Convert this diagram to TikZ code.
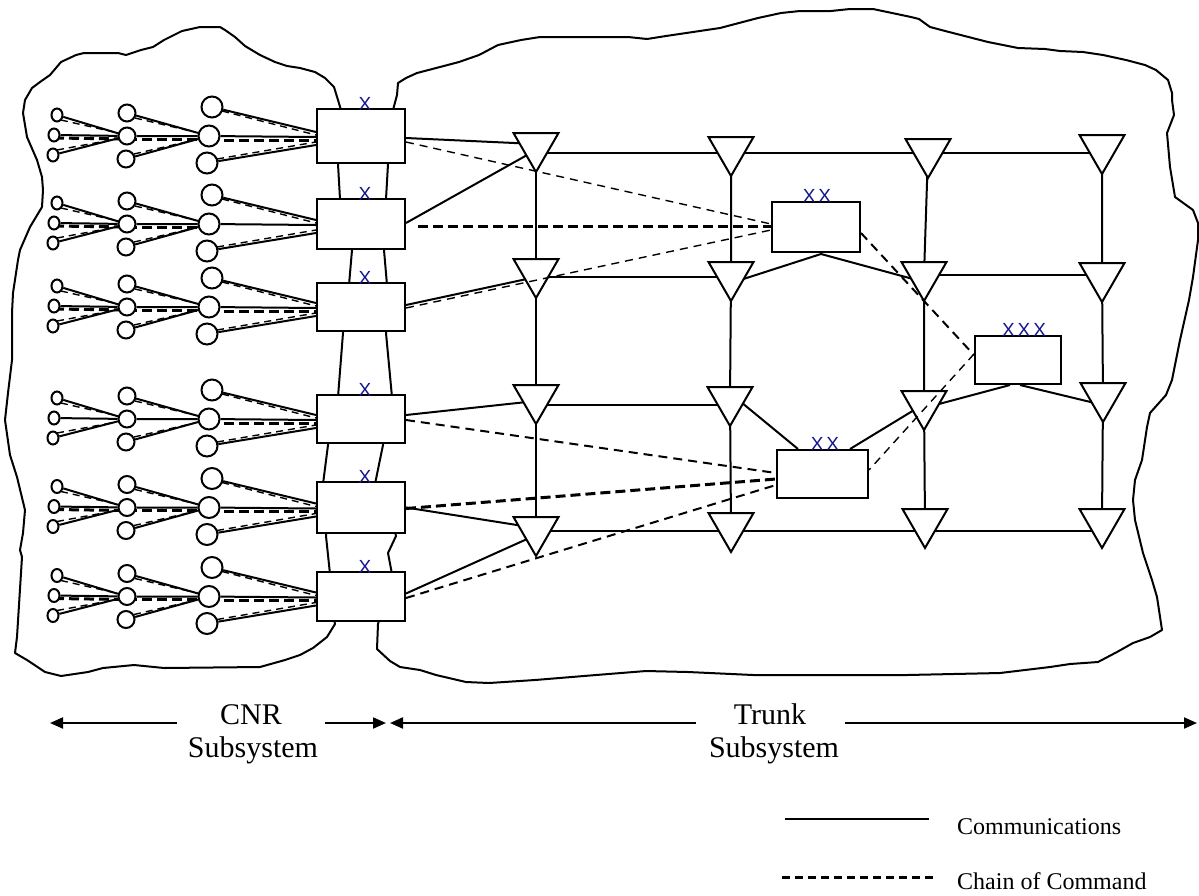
\documentclass[tikz,border=0pt]{standalone}
\usepackage{fontspec}
\setmainfont{Liberation Serif}
\newfontfamily\markfont{Liberation Sans}
\usetikzlibrary{shapes.geometric,calc,arrows.meta}
\pgfdeclarelayer{bg}
\pgfdeclarelayer{fg}
\pgfsetlayers{bg,main,fg}
\definecolor{mknavy}{RGB}{20,20,140}
\tikzset{
 comm/.style={line width=2pt, line join=round},
 cmdthin/.style={line width=1.4pt, dash pattern=on 8pt off 6pt},
 cmdmid/.style={line width=2pt, dash pattern=on 9pt off 6pt},
 cmdthick/.style={line width=3pt, dash pattern=on 10pt off 5pt},
 fand/.style={line width=1.4pt, dash pattern=on 7pt off 5pt},
 nd/.style={draw=none},
 blob/.style={line width=2pt, line join=round},
 unitbox/.style={draw, fill=white, line width=2pt, rectangle, inner sep=0pt, minimum width=88pt},
 tri/.style={regular polygon, regular polygon sides=3, shape border rotate=180, minimum size=52pt, inner sep=0pt, draw, fill=white, line width=2pt},
 c1/.style={draw, fill=white, line width=2pt, ellipse, inner sep=0pt, minimum width=11pt, minimum height=13pt},
 c2/.style={draw, fill=white, line width=2pt, circle, inner sep=0pt, minimum size=17pt},
 c3/.style={draw, fill=white, line width=2pt, circle, inner sep=0pt, minimum size=21pt},
 mk/.style={text=mknavy, font=\markfont\fontsize{19}{19}\selectfont, inner sep=0pt, anchor=base},
 lbl/.style={font=\fontsize{30}{34}\selectfont, inner sep=0pt, anchor=base},
 leg/.style={font=\fontsize{24}{28}\selectfont, inner sep=0pt, anchor=base west},
 arr/.style={line width=2pt, -{Triangle[length=13pt,width=11pt]}},
}
\newcommand\cnrgroup[6]{%
 \node[unitbox, minimum height=#3pt] (B#1) at (361,#2) {};
 \node[mk] (M#1) at (365,{#2-#3/2+1}) {X};
 \node[c1] (a#1t) at (57,{#2-21}) {};
 \node[c1] (a#1m) at (54,{#2-1}) {};
 \node[c1] (a#1b) at (53,{#2+19}) {};
 \node[c2] (b#1t) at (127,{#2-23}) {};
 \node[c2] (b#1m) at (127,{#2}) {};
 \node[c2] (b#1b) at (126,{#2+23}) {};
 \node[c3] (d#1t) at (212,{#2-29}) {};
 \node[c3] (d#1m) at (209,{#2}) {};
 \node[c3] (d#1b) at (207,{#2+27}) {};
 \begin{pgfonlayer}{bg}
  \draw[comm] (a#1t) -- (b#1m) (a#1m) -- (b#1m) (a#1b) -- (b#1m);
  \draw[comm] (b#1t) -- (d#1m) (b#1m) -- (d#1m) (b#1b) -- (d#1m);
  \draw[comm] (d#1t) -- ($(B#1.west)+(0,-4)$);
  \draw[comm] (d#1m) -- ($(B#1.west)+(0,1)$);
  \draw[comm] (d#1b) -- ($(B#1.west)+(0,9)$);
  \draw[fand] ($(a#1t)+(4,5)$) -- ($(a#1t)!0.8!(b#1m)$);
  \draw[fand] ($(a#1b)+(4,-5)$) -- ($(a#1b)!0.8!(b#1m)$);
  \draw[fand] ($(b#1t)+(8,5)$) -- ($(b#1t)!0.82!(d#1m)$);
  \draw[fand] ($(b#1b)+(8,-5)$) -- ($(b#1b)!0.82!(d#1m)$);
  \draw[fand] ($(d#1t)+(10,4)$) -- ($(B#1.west)+(0,-1)$);
  \draw[fand] ($(d#1b)+(10,-4)$) -- ($(B#1.west)+(0,6)$);
  \draw[#4] ($(a#1m)+(0,3)$) -- ($(b#1m)+(0,3)$);
  \draw[#5] ($(b#1m)+(0,3)$) -- ($(d#1m)+(0,3)$);
  \draw[#6] ($(d#1m)+(0,4)$) -- ($(B#1.west)+(0,4)$);
 \end{pgfonlayer}
}
\begin{document}
\begin{tikzpicture}[x=1pt,y=-1pt]
\useasboundingbox (0,0) rectangle (1199,895);
\begin{pgfonlayer}{bg}
% CNR blob
\draw[blob] (341,110) -- (338,100) -- (334,87) -- (325,78) -- (315,72) -- (300,68) -- (287,66) -- (275,62) -- (260,55) -- (245,46) -- (235,37) -- (225,30) -- (220,27) -- (200,27) -- (182,31) -- (170,37) -- (164,40) -- (153,47) -- (141,50) -- (126,55) -- (118,53) -- (84,53) -- (76,55) -- (61,62) -- (50,75) -- (40,82) -- (32,88) -- (25,100) -- (23,113) -- (27,137) -- (37,160) -- (42,177) -- (43,190) -- (42,207) -- (30,227) -- (20,250) -- (18,260) -- (13,293) -- (12,313) -- (12,360) -- (8,393) -- (5,420) -- (10,455) -- (17,477) -- (25,510) -- (23,533) -- (20,550) -- (22,557) -- (17,637) -- (15,653) -- (27,660) -- (45,672) -- (61,676) -- (88,672) -- (103,668) -- (134,665) -- (164,668) -- (260,667) -- (285,660) -- (300,655) -- (313,648) -- (327,637) -- (335,624) -- (330,600) -- (330,574) -- (326,536) -- (328,510) -- (323,484) -- (328,445) -- (333,420) -- (338,397) -- (343,333) -- (346,310) -- (349,285) -- (352,250) -- (345,225) -- (340,199) -- (338,164) -- (340,137) -- cycle;
% Trunk blob
\draw[blob] (393,110) -- (397,95) -- (398,83) -- (406,78) -- (417,73) -- (440,67) -- (459,62) -- (479,55) -- (498,45) -- (521,40) -- (540,37) -- (628,37) -- (647,39) -- (666,36) -- (720,28) -- (739,23) -- (758,18) -- (781,13) -- (800,11) -- (831,11) -- (850,9) -- (873,9) -- (892,13) -- (911,17) -- (919,19) -- (930,27) -- (949,32) -- (988,42) -- (1018,48) -- (1045,49) -- (1060,51) -- (1083,52) -- (1103,55) -- (1126,60) -- (1145,65) -- (1156,70) -- (1168,80) -- (1172,93) -- (1172,100) -- (1174,115) -- (1167,133) -- (1170,167) -- (1175,197) -- (1193,210) -- (1198,223) -- (1198,240) -- (1193,277) -- (1189,300) -- (1180,340) -- (1172,380) -- (1166,395) -- (1150,413) -- (1147,427) -- (1142,460) -- (1135,480) -- (1133,500) -- (1135,520) -- (1143,553) -- (1152,580) -- (1157,597) -- (1162,630) -- (1150,637) -- (1133,643) -- (1117,652) -- (1098,662) -- (1070,664) -- (1050,667) -- (1000,673) -- (907,675) -- (850,675) -- (753,675) -- (688,672) -- (646,671) -- (596,675) -- (535,680) -- (489,683) -- (466,682) -- (436,675) -- (420,670) -- (400,667) -- (390,661) -- (377,649) -- (378,624) -- (385,600) -- (392,574) -- (388,553) -- (396,536) -- (390,510) -- (375,484) -- (383,445) -- (392,397) -- (389,365) -- (386,333) -- (387,285) -- (384,250) -- (386,199) -- (388,164) -- cycle;
\end{pgfonlayer}
% CNR groups
\cnrgroup{1}{136}{54}{cmdthick}{cmdthick}{cmdthick}
\cnrgroup{2}{224}{50}{cmdthick}{cmdthick}{nd}
\cnrgroup{3}{307}{48}{cmdthick}{cmdthick}{cmdthick}
\cnrgroup{4}{419}{48}{nd}{nd}{cmdthick}
\cnrgroup{5}{507.5}{51}{cmdthick}{cmdthick}{cmdthick}
\cnrgroup{6}{596.5}{49}{cmdthick}{cmdthick}{cmdthick}
% trunk switches
\node[tri] (T11) at (536,146) {};
\node[tri] (T12) at (731,150) {};
\node[tri] (T13) at (928,152) {};
\node[tri] (T14) at (1102,148) {};
\node[tri] (T21) at (536,272) {};
\node[tri] (T22) at (731,275) {};
\node[tri] (T23) at (924,275) {};
\node[tri] (T24) at (1102,276) {};
\node[tri] (T31) at (536,398) {};
\node[tri] (T32) at (730,400) {};
\node[tri] (T33) at (924,404) {};
\node[tri] (T34) at (1103,396) {};
\node[tri] (T41) at (536,530) {};
\node[tri] (T42) at (731,526) {};
\node[tri] (T43) at (925,522) {};
\node[tri] (T44) at (1102,522) {};
% command posts
\node[unitbox, minimum width=88pt, minimum height=50pt] (XX1) at (816,227) {};
\node[mk] (M7) at (817,202) {X\hspace{3pt}X};
\node[unitbox, minimum width=91pt, minimum height=48pt] (XX2) at (822.5,474) {};
\node[mk] (M8) at (825,450) {X\hspace{3pt}X};
\node[unitbox, minimum width=86pt, minimum height=48pt] (XXX) at (1018,360) {};
\node[mk] (M9) at (1024,336) {X\hspace{3pt}X\hspace{3pt}X};
\begin{pgfonlayer}{bg}
% grid verticals
\draw[comm] (T11.center) -- (T21.center) -- (T31.center) -- (T41.center);
\draw[comm] (T12.center) -- (T22.center) -- (T32.center) -- (T42.center);
\draw[comm] (T13.center) -- (T23.center) -- (T33.center) -- (T43.center);
\draw[comm] (T14.center) -- (T24.center) -- (T34.center) -- (T44.center);
% grid horizontals
\draw[comm] (T11.center |- 0,153) -- (T14.center |- 0,153);
\draw[comm] (T21.center |- 0,277) -- (T22.center |- 0,277);
\draw[comm] (T23.center |- 0,275) -- (T24.center |- 0,275);
\draw[comm] (T31.center |- 0,405) -- (T32.center |- 0,405);
\draw[comm] (T41.center |- 0,531) -- (T44.center |- 0,531);
% links through command posts
\draw[comm] ($(T22.center)+(0,8)$) -- ($(XX1.south)+(5,1)$) -- ($(T23.center)+(0,7)$);
\draw[comm] ($(T32.center)+(0,-7)$) -- ($(XX2.north west)+(22,0)$);
\draw[comm] ($(XX2.north east)+(-19,0)$) -- (T33.center);
\draw[comm] ($(T33.center)+(0,4)$) -- ($(XXX.south)+(-8,0)$);
\draw[comm] ($(XXX.south)+(2,0)$) -- ($(T34.center)+(0,9)$);
% CNR to trunk
\draw[comm] ($(B1.east)+(0,2)$) -- ($(T11.center)+(0,-2)$);
\draw[comm] ($(B2.east)+(0,-1)$) -- ($(T11.center)+(0,4)$);
\draw[comm] ($(B3.east)+(0,-2)$) -- ($(T21.center)+(0,5)$);
\draw[comm] ($(B4.east)+(0,-4)$) -- ($(T31.center)+(0,3)$);
\draw[comm] (B5.east) -- ($(T41.center)+(0,-2)$);
\draw[comm] ($(B6.east)+(0,-3)$) -- ($(T41.center)+(0,5)$);
\end{pgfonlayer}
\begin{pgfonlayer}{fg}
\draw[cmdthin] ($(B1.east)+(0,6)$) -- ($(XX1.west)+(0,-3)$);
\draw[cmdthick] ($(B2.east)+(12,2)$) -- ($(XX1.west)+(0,-1)$);
\draw[cmdthin] ($(B3.east)+(0,1)$) -- ($(XX1.west)+(0,3)$);
\draw[cmdmid] ($(XX1.east)+(0,6)$) -- ($(XXX.west)+(0,-5)$);
\draw[cmdthin] ($(XXX.west)+(0,-6)$) -- ($(XX2.east)+(0,-4)$);
\draw[cmdmid] ($(B4.east)+(0,1)$) -- ($(XX2.west)+(0,-1)$);
\draw[cmdthick] ($(B5.east)+(0,1)$) -- ($(XX2.west)+(0,5)$);
\draw[cmdmid] ($(B6.east)+(0,1.5)$) -- ($(XX2.west)+(0,11)$);
\end{pgfonlayer}
% subsystem extents
\coordinate (L0) at (50,723);
\coordinate (L1) at (177,723);
\coordinate (L2) at (325,723);
\coordinate (L3) at (386,723);
\coordinate (R1) at (390,723);
\coordinate (R0) at (696,723);
\coordinate (R2) at (845,723);
\coordinate (R3) at (1197,723);
\draw[arr] (L1) -- (L0);
\draw[arr] (L2) -- (L3);
\draw[arr] (R0) -- (R1);
\draw[arr] (R2) -- (R3);
\node[lbl] (cnr) at (251,724) {CNR};
\node[lbl] (cnrs) at (253,757) {Subsystem};
\node[lbl] (trk) at (770,724) {Trunk};
\node[lbl] (trks) at (774,757) {Subsystem};
% legend
\coordinate (g1) at (785,819);
\coordinate (g2) at (929,819);
\coordinate (g3) at (782,877);
\coordinate (g4) at (937,877);
\draw[comm] (g1) -- (g2);
\draw[line width=3pt, dash pattern=on 8pt off 5pt] (g3) -- (g4);
\node[leg] (lc) at (957,834) {Communications};
\node[leg] (lk) at (957,889) {Chain of Command};
\end{tikzpicture}
\end{document}
